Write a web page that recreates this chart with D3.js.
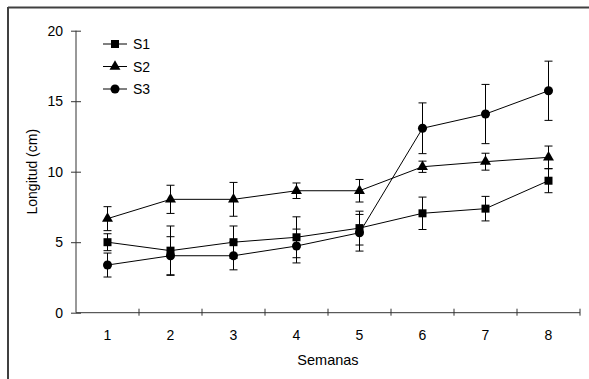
<!DOCTYPE html>
<html>
<head>
<meta charset="utf-8">
<script src="https://cdn.jsdelivr.net/npm/d3@7"></script>
<style>
  body { margin: 0; background: #fff; }
  svg { display: block; font-family: "Liberation Sans", Arial, sans-serif; }
</style>
</head>
<body>
<svg width="589" height="379"></svg>
<script>
const weeks = [1, 2, 3, 4, 5, 6, 7, 8];
const s1 = [5.0, 4.4, 5.0, 5.35, 6.0, 7.05, 7.38, 9.36];
const s1Err = [0.6, 1.75, 1.15, 1.45, 1.2, 1.15, 0.87, 0.85];
const s2 = [6.67, 8.04, 8.04, 8.65, 8.65, 10.35, 10.71, 11.02];
const s2Err = [0.85, 1.0, 1.2, 0.55, 0.8, 0.4, 0.6, 0.8];
const s3 = [3.38, 4.04, 4.04, 4.73, 5.67, 13.08, 14.09, 15.74];
const s3Err = [0.85, 1.35, 1.0, 1.2, 1.3, 1.8, 2.1, 2.1];
const yTicks = [0, 5, 10, 15, 20];

const series = [
  { name: "S1", values: s1, err: s1Err, symbol: d3.symbolSquare, size: 64 },
  { name: "S2", values: s2, err: s2Err, symbol: d3.symbolTriangle, size: 52 },
  { name: "S3", values: s3, err: s3Err, symbol: d3.symbolCircle, size: 64 }
];

const svg = d3.select("svg");
const ink = "#000";
const axisCol = "#333";
const fs = 14;

// outer frame (only top and left edges show)
svg.append("line").attr("x1", 8).attr("x2", 589).attr("y1", 7.5).attr("y2", 7.5)
  .attr("stroke", "#404040").attr("stroke-width", 2);
svg.append("line").attr("x1", 8).attr("x2", 8).attr("y1", 7).attr("y2", 379)
  .attr("stroke", "#404040").attr("stroke-width", 2);

const plotL = 76, plotR = 580, plotT = 30.7, plotB = 312.7;

const x = d3.scaleBand().domain(weeks).range([plotL, plotR]);
const y = d3.scaleLinear().domain([0, 20]).range([plotB, plotT]);
const cx = d => x(d) + x.bandwidth() / 2;

// y axis
const yAxis = svg.append("g").attr("transform", `translate(${plotL},0)`)
  .call(d3.axisLeft(y).tickValues(yTicks).tickSize(5).tickPadding(8));
yAxis.selectAll(".tick line").attr("x2", 5).attr("x1", -5);
yAxis.select(".domain").attr("d", `M0,${plotT}V${plotB}`);

// x axis, ticks at band edges
const xAxis = svg.append("g").attr("transform", `translate(0,${plotB})`)
  .call(d3.axisBottom(x).tickSize(0).tickPadding(17));
xAxis.select(".domain").attr("d", `M${plotL},0H${plotR}`);
xAxis.selectAll(".edge")
  .data(weeks.map(w => x(w)).concat([plotR]).slice(1))
  .join("line")
  .attr("class", "edge")
  .attr("x1", d => d).attr("x2", d => d)
  .attr("y1", -4).attr("y2", 3);

svg.selectAll(".domain, .tick line, .edge").attr("stroke", axisCol).attr("stroke-width", 1);
svg.selectAll(".tick text").attr("font-size", fs).attr("fill", ink)
  .attr("font-family", "Liberation Sans, Arial, sans-serif");

// axis titles
svg.append("text").attr("x", (plotL + plotR) / 2).attr("y", 365)
  .attr("text-anchor", "middle").attr("font-size", 14.5).text("Semanas");
svg.append("text").attr("transform", `translate(37,${(plotT + plotB) / 2}) rotate(-90)`)
  .attr("text-anchor", "middle").attr("font-size", fs).text("Longitud (cm)");

const line = d3.line().x((d, i) => cx(weeks[i])).y(d => y(d));

series.forEach(s => {
  const g = svg.append("g");
  // error bars
  weeks.forEach((w, i) => {
    const xx = cx(w), hi = y(s.values[i] + s.err[i]), lo = y(s.values[i] - s.err[i]);
    g.append("line").attr("x1", xx).attr("x2", xx).attr("y1", hi).attr("y2", lo)
      .attr("stroke", ink).attr("stroke-width", 1);
    [hi, lo].forEach(yy => g.append("line")
      .attr("x1", xx - 4).attr("x2", xx + 4).attr("y1", yy).attr("y2", yy)
      .attr("stroke", ink).attr("stroke-width", 1));
  });
  g.append("path").attr("d", line(s.values)).attr("fill", "none")
    .attr("stroke", ink).attr("stroke-width", 1);
  g.selectAll("path.pt").data(s.values).join("path").attr("class", "pt")
    .attr("transform", (d, i) => `translate(${cx(weeks[i])},${y(d)})`)
    .attr("d", d3.symbol(s.symbol, s.size)).attr("fill", ink);
});

// legend
const legend = svg.append("g");
series.forEach((s, i) => {
  const ly = 44 + i * 22.5;
  legend.append("line").attr("x1", 103).attr("x2", 127).attr("y1", ly).attr("y2", ly)
    .attr("stroke", ink).attr("stroke-width", 1);
  legend.append("path").attr("transform", `translate(115,${ly})`)
    .attr("d", d3.symbol(s.symbol, s.size)).attr("fill", ink);
  legend.append("text").attr("x", 133).attr("y", ly + 5)
    .attr("font-size", fs).text(s.name);
});
</script>
</body>
</html>
